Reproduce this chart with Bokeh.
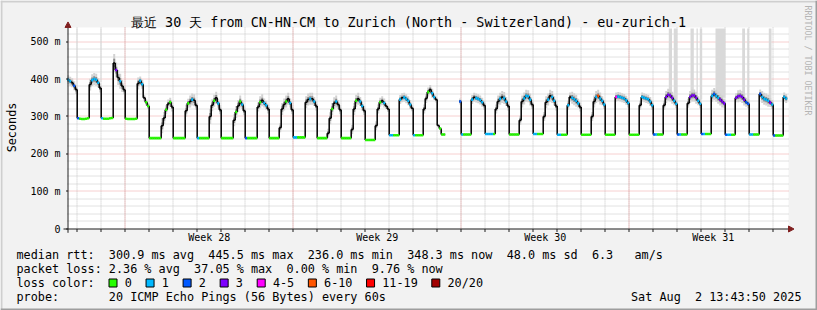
import re
import numpy as np
from bokeh.plotting import figure
from bokeh.models import Range1d
from bokeh.core.properties import value
from bokeh.embed import file_html
from bokeh.resources import INLINE

nan = float("nan")

# ---------------- data ----------------
title_text = "最近 30 天 from CN-HN-CM to Zurich (North - Switzerland) - eu-zurich-1"
y_tick_values = [0, 100, 200, 300, 400, 500]
y_tick_labels = ["0", "100 m", "200 m", "300 m", "400 m", "500 m"]
week_labels = ["Week 28", "Week 29", "Week 30", "Week 31"]
week_label_hours = [141.7, 309.7, 477.7, 645.7]      # hours from left edge of graph
week_line_hours = [57.7, 225.7, 393.7, 561.7]
first_day_line_h = 9.7
n_days = 30
first_sample_h = -0.3
sample_step_h = 2.0

# median rtt (ms), one value per 2 hours
median_ms = [
    398, 394, 390, 382, 372,
    295, 294, 293, 293, 294, 295, 385, 397, 400, 398, 390, 376,
    295, 294, 294, 294, 295, 296, 443, 424, 404, 394, 381, 371,
    294, 293, 293, 293, 293, 294, 388, 395, 386, 350, 338, 328,
    242, 242, 242, 242, 242, 242, 275, 296, 318, 333, 338, 325,
    242, 242, 242, 242, 242, 242, 315, 335, 340, 345, 343, 330,
    242, 242, 242, 242, 242, 242, 300, 330, 342, 350, 335, 318,
    242, 242, 242, 242, 242, 242, 290, 312, 328, 340, 332, 315,
    242, 242, 242, 242, 242, 242, 325, 338, 343, 336, 330, 320,
    242, 242, 242, 242, 242, 270, 320, 332, 340, 347, 336, 318,
    244, 244, 244, 244, 244, 244, 338, 345, 347, 347, 340, 328,
    242, 242, 242, 242, 242, 255, 295, 320, 335, 340, 332, 318,
    242, 242, 242, 242, 242, 265, 320, 342, 347, 340, 328, 316,
    237, 237, 237, 237, 237, 275, 320, 338, 342, 336, 328, 320,
    250, 250, 250, 250, 250, 345, 350, 351, 347, 342, 332, 322,
    250, 250, 250, 250, 250, 320, 348, 365, 372, 362, 352, 345,
    276, 268, 252, 252, nan, nan, nan, nan, nan, nan, nan, 340,
    252, 252, 252, 252, 252, 345, 351, 349, 347, 344, 338, 330,
    253, 253, 253, 253, 253, 320, 340, 347, 352, 349, 340, 328,
    252, 252, 252, 252, 252, 290, 340, 348, 355, 354, 345, 332,
    253, 253, 253, 253, 253, 300, 338, 345, 355, 352, 342, 328,
    251, 251, 251, 251, 251, 330, 352, 350, 346, 342, 335, 325,
    251, 251, 251, 251, 251, 300, 340, 352, 355, 348, 342, 332,
    251, 251, 251, 251, 251, 352, 353, 352, 350, 348, 343, 336,
    251, 251, 251, 251, 251, 330, 352, 350, 348, 346, 340, 330,
    252, 252, 252, 252, 252, 330, 352, 358, 356, 350, 342, 334,
    252, 252, 252, 252, 252, 335, 352, 356, 356, 350, 342, 334,
    253, 253, 253, 253, 253, 355, 360, 355, 350, 345, 340, 335,
    251, 251, 251, 251, 251, 350, 354, 355, 352, 345, 338, 334,
    252, 252, 252, 252, 252, 360, 352, 347, 345, 342, 337, 332,
    249, 249, 249, 249, 249, 352, 348,
]

# loss class per sample ('k' = plain median, no loss colour visible)
loss_code = (
    "11k2k"
    "200000k1111k" "100000k3k1kk" "000000k11k00" "000000kk0k0k"
    "000000k0k1kk" "100000kk0k1k" "000000k0k01k" "200000k0k11k"
    "00000kkk0k1k" "110000kk1k1k" "00000kk0k1kk" "00000kk0k11k"
    "00000kk0k1kk" "110001k1111k" "10000kk0k11k" "k000kkkkkkk2"
    "100001k1111k" "11110kk1k11k" "00000kk1111k" "11000kk1k11k"
    "110001k1111k" "00000kk16111" "000004111111" "00000k111111"
    "21000k333311" "21000k333311" "210001211333" "211003333322"
    "110002111131" "2000011"
)

# smoke spread per sample (units of 4 ms)
smoke_code = (
    "33333"
    "000000444433" "000000655543" "000000433222" "000000543333"
    "000000434443" "000000544433" "000000444433" "000000344333"
    "000003444433" "000000444433" "000003444433" "000003444333"
    "000003333322" "000003333332" "000003333322" "100000000002"
    "000003333333" "000003444433" "000003444443" "000003444433"
    "000003344433" "000003444433" "000003333333" "000003333333"
    "000003444433" "000003444433" "000004444443" "000003444433"
    "000003444433" "0000033"
)
smoke_unit_ms = 4.0

# pings far above the median (grey spikes up to the top of the graph)
spike_start_h = [9.0, 33.0, 441.0, 601.3, 606.3, 623.0, 629.0, 632.3, 648.0, 674.7, 679.7, 701.3]
spike_end_h = [10.0, 34.0, 442.0, 604.5, 610.0, 626.3, 630.3, 634.7, 658.0, 677.5, 681.5, 704.0]
spike_bottom_ms = [378, 392, 322, 356, 346, 356, 350, 345, 350, 350, 340, 340]

loss_labels = ["0", "1", "2", "3", "4-5", "6-10", "11-19", "20/20"]
loss_keys = ["0", "1", "2", "3", "4", "6", "r", "d"]
loss_colors = ["#26ff00", "#00b8ff", "#0059ff", "#7e00ff", "#ff00ff", "#ff5500", "#ff0000", "#a10000"]

stat_line_rtt = "median rtt:  300.9 ms avg  445.5 ms max  236.0 ms min  348.3 ms now  48.0 ms sd  6.3   am/s"
stat_line_loss = "packet loss: 2.36 % avg  37.05 % max  0.00 % min  9.76 % now"
stat_loss_color = "loss color:"
stat_probe = "probe:       20 ICMP Echo Pings (56 Bytes) every 60s"
stat_date = "Sat Aug  2 13:43:50 2025"
y_top_ms = 535

# ---------------- layout constants (canvas pixels) ----------------
W, H = 817, 310
X0 = 67.0          # canvas x of hour 0 (left edge of graph)
PX_PER_H = 1.0
Y0 = 228.3         # canvas y of 0 ms
PX_PER_MS = 0.3745
GR = 788.0         # right edge of graph area
MONO = "DejaVu Sans Mono"
FS = 11.8          # legend font size (px)
CW = 0.602 * FS    # monospace advance
BG = "#f2f2f2"

p = figure(width=W, height=H, output_backend="svg", toolbar_location=None,
           x_range=Range1d(0, W), y_range=Range1d(H, 0),
           x_axis_type=None, y_axis_type=None, min_border=0,
           background_fill_color=BG, border_fill_color=BG, outline_line_color=None)
p.extra_x_ranges = {"h": Range1d(-X0 / PX_PER_H, (W - X0) / PX_PER_H)}
p.extra_y_ranges = {"ms": Range1d(-(H - Y0) / PX_PER_MS, Y0 / PX_PER_MS)}

def py(ms):
    return Y0 - np.asarray(ms, dtype=float) * PX_PER_MS

def px(h):
    return X0 + np.asarray(h, dtype=float) * PX_PER_H

def crisp(v):
    return np.floor(v) + 0.5

y_top_px = float(py(y_top_ms))

# 3D frame of the canvas
p.segment(x0=[0, 1], y0=[1, 0], x1=[W, 1], y1=[1, H], line_color="#cfcfcf", line_width=2)
p.segment(x0=[0, W - 1], y0=[H - 1, 0], x1=[W, W - 1], y1=[H - 1, H],
          line_color="#9e9e9e", line_width=2)

# graph canvas
p.quad(left=X0, right=GR, top=y_top_px - 1, bottom=Y0, fill_color="white", line_color=None)

# grid
day_lines = [first_day_line_h + 24 * k for k in range(n_days)]
minor_y = [v for v in range(20, y_top_ms, 20) if v % 100]
gx = crisp(px(day_lines))
p.segment(x0=gx, y0=y_top_px - 1, x1=gx, y1=Y0, line_color="#c4c4c4", line_dash="1 1")
gy = crisp(py(minor_y))
p.segment(x0=X0, y0=gy, x1=GR, y1=gy, line_color="#c4c4c4", line_dash="1 1")
wx = crisp(px(week_line_hours))
p.segment(x0=wx, y0=y_top_px - 1, x1=wx, y1=Y0, line_color="#eda0a0", line_dash="1 1")
my = crisp(py(y_tick_values[1:]))
p.segment(x0=X0, y0=my, x1=GR, y1=my, line_color="#eda0a0", line_dash="1 1")

# ---------------- data marks (through the hour / ms scales) ----------------
v = np.array(median_ms, dtype=float)
t = np.array([first_sample_h + sample_step_h * i for i in range(len(v))])
t1 = t + sample_step_h
spread = np.array([int(c) for c in smoke_code]) * smoke_unit_ms
ok = np.isfinite(v)
R = dict(x_range_name="h", y_range_name="ms")

p.quad(left=spike_start_h, right=spike_end_h, bottom=spike_bottom_ms,
       top=[y_top_ms] * len(spike_start_h), fill_color="#d9d9d9", line_color=None, **R)

sm = ok & (spread > 0)
p.quad(left=t[sm], right=t1[sm], bottom=(v - spread)[sm], top=(v + spread)[sm],
       fill_color="#d2d2d2", line_color=None, **R)
p.quad(left=t[sm], right=t1[sm], bottom=(v - spread * 0.45)[sm], top=(v + spread * 0.45)[sm],
       fill_color="#8c8c8c", line_color=None, **R)

p.segment(x0=t[ok], y0=v[ok], x1=t1[ok], y1=v[ok], line_color="black", line_width=1.5, **R)
j = ok[:-1] & ok[1:]
p.segment(x0=t1[:-1][j], y0=v[:-1][j], x1=t1[:-1][j], y1=v[1:][j],
          line_color="black", line_width=1.5, **R)

cmap = dict(zip(loss_keys, loss_colors))
codes = np.array(list(loss_code))
cm = ok & (codes != "k")
p.segment(x0=t[cm], y0=v[cm], x1=t1[cm], y1=v[cm],
          line_color=[cmap[c] for c in codes[cm]], line_width=2.6, **R)

# ---------------- axes ----------------
AX = "#1f1f1f"
ARROW = "#801f1f"
ax_x = crisp(X0)
ax_y = crisp(Y0)
p.segment(x0=ax_x, y0=Y0 + 4, x1=ax_x, y1=y_top_px - 1, line_color=AX, line_width=1)
p.segment(x0=X0 - 4, y0=ax_y, x1=GR, y1=ax_y, line_color=AX, line_width=1)
p.patches(xs=[[ax_x - 3, ax_x + 3, ax_x], [GR, GR, GR + 5.5]],
          ys=[[y_top_px - 1, y_top_px - 1, y_top_px - 6.5], [ax_y - 3, ax_y + 3, ax_y]],
          fill_color=ARROW, line_color=ARROW)
# ticks
p.segment(x0=gx, y0=ax_y, x1=gx, y1=ax_y + 3, line_color=AX)
p.segment(x0=ax_x - 2, y0=crisp(py(y_tick_values)), x1=ax_x, y1=crisp(py(y_tick_values)),
          line_color=AX)
# tick labels
p.text(x=[60] * len(y_tick_values), y=y_tick_values, text=y_tick_labels, y_range_name="ms",
       text_font=value(MONO), text_font_size=value("10px"), text_align="right",
       text_baseline="middle", text_color="black")
p.text(x=week_label_hours, y=[237] * len(week_labels), text=week_labels, x_range_name="h",
       text_font=value(MONO), text_font_size=value("10px"), text_align="center",
       text_baseline="middle", text_color="black")

# ---------------- texts ----------------
def txt(s, x, y, size="11.8px", align="left", color="black", angle=0.0):
    p.text(x=[x], y=[y], text=[s], angle=angle, text_font=value(MONO),
           text_font_size=value(size), text_align=align, text_baseline="middle",
           text_color=color)

def mono_line(s, x, y):
    # keep the column layout of a monospace line (runs of spaces would collapse in SVG)
    xs, ts = [], []
    for m in re.finditer(r"\S+(?: \S+)*", s):
        xs.append(x + m.start() * CW)
        ts.append(m.group(0))
    p.text(x=xs, y=[y] * len(xs), text=ts, text_font=value(MONO),
           text_font_size=value(f"{FS}px"), text_align="left", text_baseline="middle",
           text_color="black")

txt(title_text, 408, 21.5, size="13.4px", align="center")
txt("Seconds", 11, 127, align="center", angle=np.pi / 2)
txt("RRDTOOL / TOBI OETIKER", 807.5, 60, size="8.3px", align="center",
    color="#b4b4b4", angle=-np.pi / 2)
mono_line(stat_line_rtt, 16, 254)
mono_line(stat_line_loss, 16, 268)
mono_line(stat_loss_color, 16, 282)
mono_line(stat_probe, 16, 296)
mono_line(stat_date, 801 - len(stat_date) * CW, 296)

xq = 108.5
sq_l, sq_lab = [], []
for lab in loss_labels:
    sq_l.append(xq)
    sq_lab.append(xq + 15.7)
    xq += 30 + 7.05 * len(lab)
p.quad(left=sq_l, right=[x + 8 for x in sq_l], top=278.5, bottom=286.5,
       fill_color=loss_colors, line_color="black", line_width=1)
p.text(x=sq_lab, y=[282] * len(sq_lab), text=loss_labels, text_font=value(MONO),
       text_font_size=value(f"{FS}px"), text_align="left", text_baseline="middle",
       text_color="black")

open("out.html", "w").write(file_html(p, INLINE))
